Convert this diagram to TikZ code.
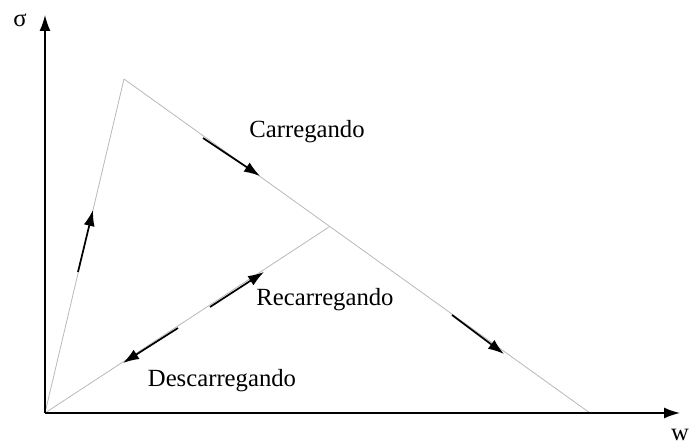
\documentclass[tikz,border=0pt]{standalone}
\usepackage{fontspec}
\setmainfont{Liberation Serif}
\usepackage{tikz}
\usetikzlibrary{arrows.meta}

\begin{document}
\begin{tikzpicture}[>={Latex[length=16bp,width=11bp]},line join=bevel,
  axis/.style={->,line width=1.5bp,black},
  curve/.style={line width=0.8bp,black!28},
  path arrow/.style={->,line width=1.7bp,black},
  lbl/.style={anchor=base,inner sep=0pt,font=\fontsize{24.7bp}{28bp}\selectfont}]
  \useasboundingbox (0bp,0bp) rectangle (692bp,446bp);
%%
  % Points of the curve
  \coordinate (orig) at (45bp,33bp);
  \coordinate (peak) at (124bp,367bp);
  \coordinate (zero) at (590bp,33bp);
  \coordinate (reload) at (329bp,219bp);
  \coordinate (xend) at (680bp,33bp);
  \coordinate (yend) at (45bp,431bp);
  % Edge: loading path
  \draw [curve] (orig) -- (peak) -- (zero);
  % Edge: unloading / reloading path
  \draw [curve] (orig) -- (reload);
  % Axes
  \draw [axis] (orig) -- (xend);
  \draw [axis] (orig) -- (yend);
  \node [lbl] (sigma) at (20bp,419bp) {σ};
  \node [lbl] (wlab) at (680bp,6bp) {w};
  % Arrows along the paths
  \coordinate (up1) at (78bp,174bp);
  \coordinate (up2) at (93bp,236bp);
  \draw [path arrow] (up1) -- (up2);
  \coordinate (soft1) at (203bp,308bp);
  \coordinate (soft2) at (260bp,270bp);
  \draw [path arrow] (soft1) -- (soft2);
  \coordinate (soft3) at (452bp,131bp);
  \coordinate (soft4) at (504bp,92bp);
  \draw [path arrow] (soft3) -- (soft4);
  \coordinate (rel1) at (210bp,139bp);
  \coordinate (rel2) at (264bp,174bp);
  \draw [path arrow] (rel1) -- (rel2);
  \coordinate (unl1) at (178bp,118bp);
  \coordinate (unl2) at (123bp,83bp);
  \draw [path arrow] (unl1) -- (unl2);
  % Labels
  \node [lbl] (carr) at (307bp,308bp) {Carregando};
  \node [lbl] (recarr) at (325bp,140bp) {Recarregando};
  \node [lbl] (descarr) at (222bp,59bp) {Descarregando};
%
\end{tikzpicture}
\end{document}
